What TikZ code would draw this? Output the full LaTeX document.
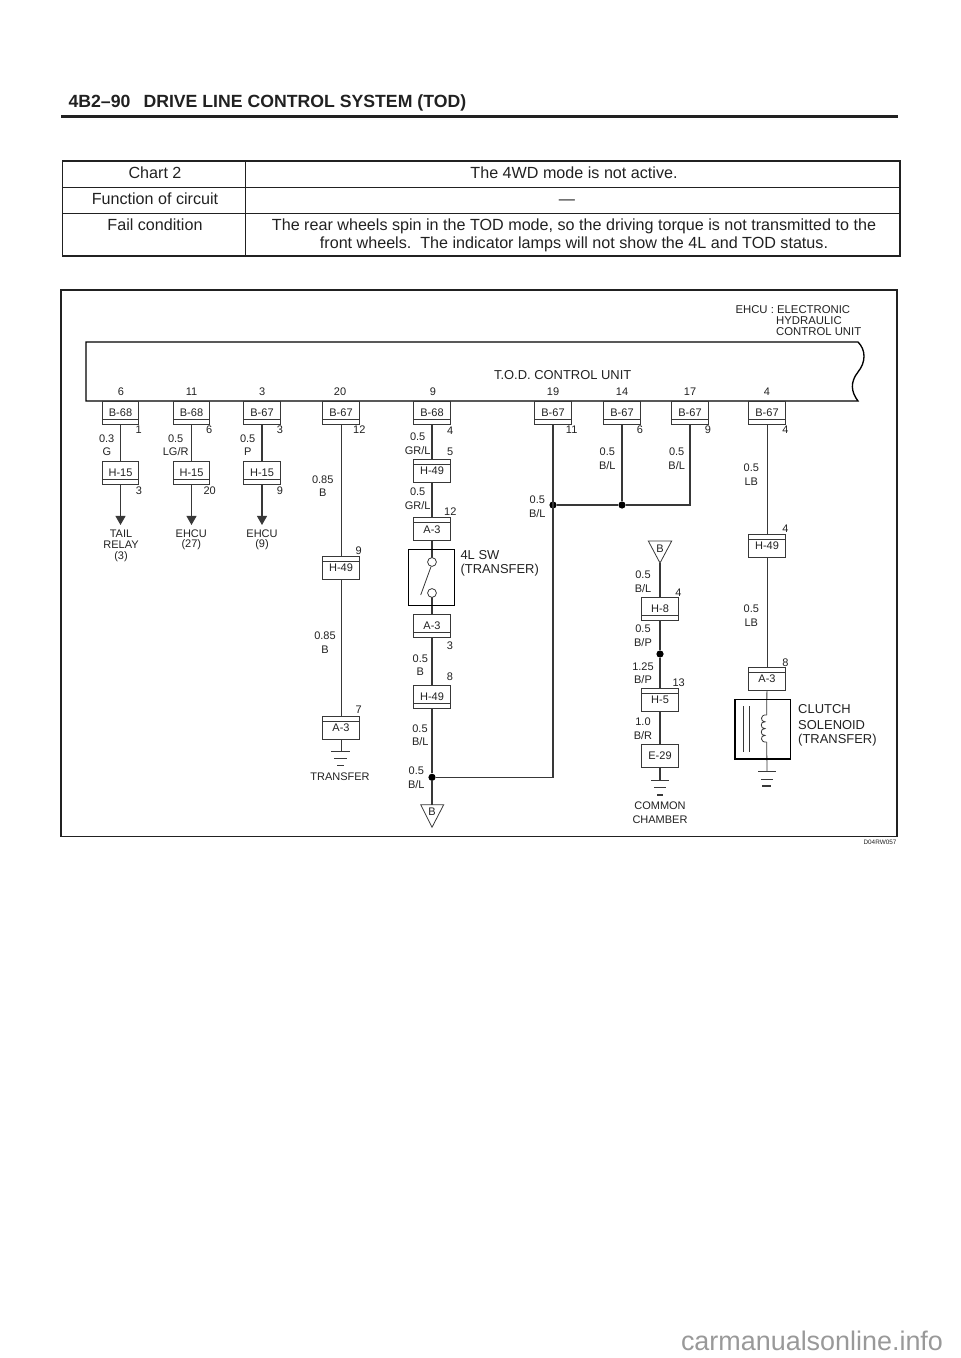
\documentclass[tikz,border=0pt]{standalone}
\usepackage{color}
\usepackage{fontspec}
\setmainfont{Liberation Sans}
\usepackage{tikz}
\usetikzlibrary{arrows.meta}
\definecolor{inkgrey}{gray}{0.13}
\definecolor{wiregrey}{gray}{0.22}
\definecolor{markgrey}{gray}{0.6}
\tikzset{
    tiny/.style={font=\fontsize{8.25}{9}\selectfont, text=inkgrey, inner sep=0pt},
    mid/.style={font=\fontsize{9.7}{11}\selectfont, text=inkgrey, inner sep=0pt},
    small/.style={font=\fontsize{8.5}{9}\selectfont, text=inkgrey, inner sep=0pt},
    cell/.style={font=\fontsize{12.1}{14}\selectfont, text=inkgrey, inner sep=0pt, anchor=base},
    head/.style={font=\fontsize{13.25}{15}\selectfont\bfseries, text=inkgrey, inner sep=0pt, anchor=base west},
    conn/.style={rectangle, draw=wiregrey, line width=0.6pt, fill=white, tiny, minimum width=27.4pt, minimum height=17.3pt},
    bandbot/.style={conn, path picture={\draw[line width=0.5pt] ([yshift=3.7pt]path picture bounding box.south west) -- ([yshift=3.7pt]path picture bounding box.south east);}},
    bandtop/.style={conn, path picture={\draw[line width=0.5pt] ([yshift=-3.7pt]path picture bounding box.north west) -- ([yshift=-3.7pt]path picture bounding box.north east);}},
    wire/.style={wiregrey, line width=0.8pt},
    dot/.style={circle, fill=black, inner sep=0pt, minimum size=5.4pt},
    bar/.style={wiregrey, line width=0.6pt},
}
\begin{document}
\begin{tikzpicture}[x=0.75pt, y=-0.75pt, line width = 0.8pt]
\useasboundingbox (0,0) rectangle (960,1358);
% heading
\draw (68,108) node[head](pagenum){4B2--90}
    (143,108) node[head](title){DRIVE LINE CONTROL SYSTEM (TOD)};
\draw [inkgrey, line width = 1.6pt] (61,116.5) -- (898,116.5);
% table
\draw [inkgrey, line width = 0.5pt] (62.5,187) -- (900,187) (62.5,213.5) -- (900,213.5) (245,161) -- (245,256);
\draw [inkgrey, line width = 1.2pt] (62.5,161) rectangle (900,256);
\draw (155,178.3) node[cell](t1){Chart 2}
    (155,204.7) node[cell](t2){Function of circuit}
    (155,230.7) node[cell](t3){Fail condition}
    (574,178.3) node[cell](t4){The 4WD mode is not active.}
    (567,204.7) node[cell](t5){---}
    (574,230.7) node[cell](t6){The rear wheels spin in the TOD mode, so the driving torque is not transmitted to the}
    (574,248.5) node[cell](t7){front wheels.\ \ The indicator lamps will not show the 4L and TOD status.};
% frame and unit
\draw [inkgrey, line width = 0.9pt] (61,290) rectangle (897,836.5);
\draw [black, line width = 1pt] (86,401) -- (86,342) -- (858,342) .. controls (866,350) and (866,362) .. (858,372)
    .. controls (850,382) and (851,392) .. (858,401) -- cycle;
\draw (562.7,375) node[mid](unit){T.O.D. CONTROL UNIT}
    (735,309.3) node[small, anchor=west](ehcu1){EHCU : ELECTRONIC}
    (775.7,320.7) node[small, anchor=west](ehcu2){HYDRAULIC}
    (775.7,332) node[small, anchor=west](ehcu3){CONTROL UNIT}
    (897,842.5) node[anchor=east, font=\fontsize{4.8}{5}\selectfont, text=inkgrey, inner sep=0pt](code){D04RW057}
    (812,1341) node[font=\fontsize{20.2}{22}\selectfont, text=markgrey, inner sep=0pt](site){carmanualsonline.info};
% pins on the unit
\draw (121,391.7) node[tiny](p1){6}
    (191.5,391.7) node[tiny](p2){11}
    (262.3,391.7) node[tiny](p3){3}
    (340,391.7) node[tiny](p4){20}
    (433,391.7) node[tiny](p5){9}
    (553,391.7) node[tiny](p6){19}
    (622,391.7) node[tiny](p7){14}
    (690,391.7) node[tiny](p8){17}
    (767,391.7) node[tiny](p9){4};
% connectors
\draw (120.5,412.5) node[bandbot](b1){B-68}
    (191.5,412.5) node[bandbot](b2){B-68}
    (262,412.5) node[bandbot](b3){B-67}
    (341,412.5) node[bandbot](b4){B-67}
    (432,412.5) node[bandbot](b5){B-68}
    (553,412.5) node[bandbot](b6){B-67}
    (622,412.5) node[bandbot](b7){B-67}
    (690,412.5) node[bandbot](b8){B-67}
    (767,412.5) node[bandbot](b9){B-67}
    (120.5,473) node[bandbot](h1){H-15}
    (191.5,473) node[bandbot](h2){H-15}
    (262,473) node[bandbot](h3){H-15}
    (341,567.5) node[bandtop](h4){H-49}
    (341,727.5) node[bandtop](a4){A-3}
    (432,471) node[bandtop](h5){H-49}
    (432,529.3) node[bandtop](a5){A-3}
    (432,626.2) node[bandbot](a6){A-3}
    (432,697.2) node[bandbot](h6){H-49}
    (660,609.2) node[bandbot](h7){H-8}
    (660,699.7) node[bandtop](h8){H-5}
    (660,755.7) node[conn](e1){E-29}
    (767,545.7) node[bandtop](h9){H-49}
    (767,679) node[bandtop](a9){A-3};
% junctions and free ends
\draw (553,505) node[dot](d1){}
    (622,505) node[dot](d2){}
    (432,777.3) node[dot](d3){}
    (660,654) node[dot](d4){};
\coordinate (e2) at (120.5,525);
\coordinate (e3) at (191.5,525);
\coordinate (e4) at (262,525);
\coordinate (c1) at (690,505);
\coordinate (c2) at (553,777.3);
\coordinate (g1) at (341,751.7);
\coordinate (g2) at (660,780.3);
\coordinate (g3) at (767,771.7);
\coordinate (tip1) at (432,804.7);
\coordinate (tip2) at (660,563);
\coordinate (sw1) at (432,562);
\coordinate (sw2) at (432,593);
\coordinate (coil1) at (766.7,715);
\coordinate (coil2) at (766.7,742);
% wires
\draw [wire] (b1) -- (h1);
\draw [wire] (b2) -- (h2);
\draw [wire] (b3) -- (h3);
\draw [wire, -{Triangle[length=6.8pt,width=7.5pt]}] (h1) -- (e2);
\draw [wire, -{Triangle[length=6.8pt,width=7.5pt]}] (h2) -- (e3);
\draw [wire, -{Triangle[length=6.8pt,width=7.5pt]}] (h3) -- (e4);
\draw [wire, line width = 0.6pt] (b4) -- (h4);
\draw [wire, line width = 0.6pt] (h4) -- (a4);
\draw [wire, line width = 0.6pt] (a4) -- (g1);
\draw [wire] (b5) -- (h5);
\draw [wire] (h5) -- (a5);
\draw [wire] (a5) -- (sw1);
\draw [wire] (sw2) -- (a6);
\draw [wire] (a6) -- (h6);
\draw [wire] (h6) -- (d3);
\draw [wire] (d3) -- (tip1);
\draw [wire] (d3) -- (c2) -- (b6);
\draw [wire] (d1) -- (d2) -- (c1) -- (b8);
\draw [wire] (b7) -- (d2);
\draw [wire] (tip2) -- (h7);
\draw [wire] (h7) -- (d4);
\draw [wire] (d4) -- (h8);
\draw [wire] (h8) -- (e1);
\draw [wire] (e1) -- (g2);
\draw [wire, line width = 0.6pt] (b9) -- (h9);
\draw [wire, line width = 0.6pt] (h9) -- (a9);
\draw [wire, line width = 0.6pt] (a9) -- (coil1);
\draw [wire, line width = 0.6pt] (coil2) -- (g3);
% switch
\draw [black, line width = 0.9pt] (408.7,549.3) rectangle (454.3,605.7);
\draw [wire, line width = 0.6pt, fill=white] (sw1) circle [radius=3.3pt];
\draw [wire, line width = 0.6pt, fill=white] (sw2) circle [radius=3.3pt];
\draw [wire, line width = 0.6pt] (431,566.7) -- (420.7,595);
% solenoid
\draw [black, line width = 0.9pt] (735,699.3) rectangle (790.3,759);
\draw [wire, line width = 0.5pt] (743.3,706) -- (743.3,751.7);
\draw [wire, line width = 0.5pt] (749,706) -- (749,751.7);
\draw [wire, line width = 0.6pt] (coil1) .. controls (760,714) and (760,722) .. (765,721.8)
    .. controls (760,721) and (760,729) .. (765,728.6)
    .. controls (760,728) and (760,736) .. (765,735.4)
    .. controls (760,735) and (760,743) .. (coil2);
% grounds and flags
\draw [bar] (331,751.7) -- (350,751.7) (334,758.5) -- (347,758.5) (337,765.5) -- (344,765.5);
\draw [bar, line width = 0.8pt] (651,780.3) -- (669,780.3) (654,787.5) -- (666,787.5) (657,795) -- (663,795);
\draw [bar, line width = 0.5pt] (758,771.7) -- (776,771.7) (761,779) -- (773,779);
\draw [bar, line width = 0.8pt] (762,786) -- (771,786);
\draw [bar] (420.7,804.7) -- (443.7,804.7) -- (432,827.3) -- cycle;
\draw [bar] (648.3,541) -- (671.7,541) -- (660,563) -- cycle;
% wire labels
\draw (138.7,430) node[tiny](n1){1}
    (106.7,438.3) node[tiny](n2){0.3}
    (107,451.7) node[tiny](n3){G}
    (139,491) node[tiny](n4){3}
    (209.3,430) node[tiny](n5){6}
    (175.7,438.3) node[tiny](n6){0.5}
    (175.7,451.7) node[tiny](n7){LG/R}
    (209.7,491) node[tiny](n8){20}
    (280,430) node[tiny](n9){3}
    (247.7,438.3) node[tiny](n10){0.5}
    (247.7,451.7) node[tiny](n11){P}
    (280,491) node[tiny](n12){9}
    (359.3,430) node[tiny](n13){12}
    (322.7,479.7) node[tiny](n14){0.85}
    (322.7,493) node[tiny](n15){B}
    (358.7,551) node[tiny](n16){9}
    (325,636) node[tiny](n17){0.85}
    (325,649.3) node[tiny](n18){B}
    (358.7,710) node[tiny](n19){7}
    (450.3,431) node[tiny](n20){4}
    (417.7,437) node[tiny](n21){0.5}
    (417.7,451) node[tiny](n22){GR/L}
    (450.3,451.7) node[tiny](n23){5}
    (417.7,492) node[tiny](n24){0.5}
    (417.7,505.7) node[tiny](n25){GR/L}
    (450.3,512) node[tiny](n26){12}
    (450,645.3) node[tiny](n27){3}
    (420.3,658.3) node[tiny](n28){0.5}
    (420.3,672) node[tiny](n29){B}
    (450,677) node[tiny](n30){8}
    (420,728.7) node[tiny](n31){0.5}
    (420.3,742) node[tiny](n32){B/L}
    (416.3,771) node[tiny](n33){0.5}
    (416.3,785) node[tiny](n34){B/L}
    (432,812) node[tiny](n35){B}
    (571.7,430) node[tiny](n36){11}
    (640,430) node[tiny](n37){6}
    (708,430) node[tiny](n38){9}
    (785.3,430) node[tiny](n39){4}
    (607.3,452) node[tiny](n40){0.5}
    (607.3,466) node[tiny](n41){B/L}
    (676.7,452) node[tiny](n42){0.5}
    (676.7,466) node[tiny](n43){B/L}
    (537.3,499.7) node[tiny](n44){0.5}
    (537.3,513.7) node[tiny](n45){B/L}
    (751.3,468) node[tiny](n46){0.5}
    (751.3,482) node[tiny](n47){LB}
    (785.3,528.7) node[tiny](n48){4}
    (660,549) node[tiny](n49){B}
    (643,575) node[tiny](n50){0.5}
    (643,589) node[tiny](n51){B/L}
    (678.3,592.7) node[tiny](n52){4}
    (643,629) node[tiny](n53){0.5}
    (643,643) node[tiny](n54){B/P}
    (643,666.7) node[tiny](n55){1.25}
    (643,680) node[tiny](n56){B/P}
    (678.7,682.7) node[tiny](n57){13}
    (643,722) node[tiny](n58){1.0}
    (643,736) node[tiny](n59){B/R}
    (751.3,608.7) node[tiny](n60){0.5}
    (751.3,622.7) node[tiny](n61){LB}
    (785.3,662.7) node[tiny](n62){8};
% part names
\draw (121,533.3) node[tiny](m1){TAIL}
    (121,544.7) node[tiny](m2){RELAY}
    (121,556.7) node[tiny](m3){(3)}
    (191.3,533.3) node[tiny](m4){EHCU}
    (191.3,545) node[tiny](m5){(27)}
    (262,533.3) node[tiny](m6){EHCU}
    (262,545) node[tiny](m7){(9)}
    (340,777) node[tiny](m8){TRANSFER}
    (660,806) node[tiny](m9){COMMON}
    (660,820) node[tiny](m10){CHAMBER}
    (460,554.7) node[mid, anchor=west](m11){4L SW}
    (460,570) node[mid, anchor=west](m12){(TRANSFER)}
    (797.7,709) node[mid, anchor=west](m13){CLUTCH}
    (797.7,724.7) node[mid, anchor=west](m14){SOLENOID}
    (797.7,739.7) node[mid, anchor=west](m15){(TRANSFER)};
\end{tikzpicture}
\end{document}
